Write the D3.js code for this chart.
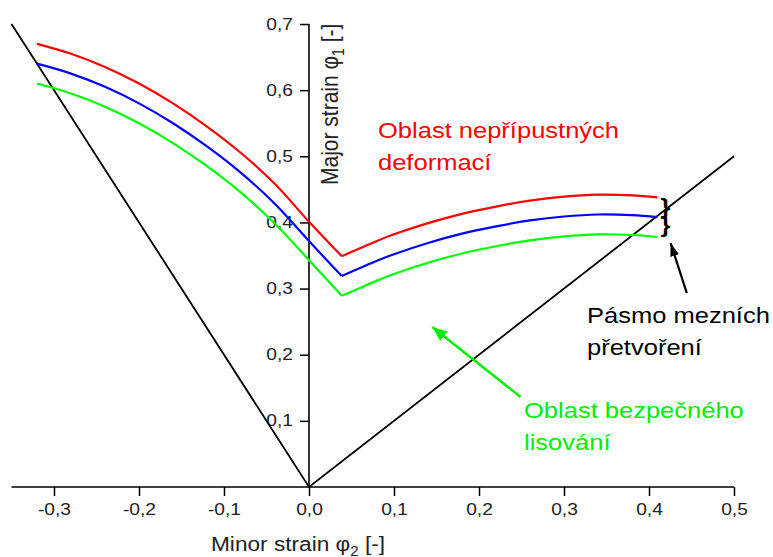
<!DOCTYPE html>
<html>
<head>
<meta charset="utf-8">
<script src="https://cdn.jsdelivr.net/npm/d3@7"></script>
<style>
  body { margin: 0; background: #fff; }
  text { font-family: "Liberation Sans", Arial, sans-serif; }
</style>
</head>
<body>
<svg width="773" height="557"></svg>
<script>
// minor strain (phi2) positions of the limit curves
var strainX = [-0.32, -0.28, -0.24, -0.20, -0.16, -0.12, -0.08, -0.04, 0.00, 0.0385,
               0.06, 0.08, 0.10, 0.14, 0.18, 0.22, 0.26, 0.30, 0.34, 0.38, 0.41];
// major strain (phi1) of the three curves
var redY   = [0.670, 0.655, 0.635, 0.610, 0.580, 0.545, 0.505, 0.458, 0.401, 0.349,
              0.361, 0.372, 0.382, 0.399, 0.413, 0.424, 0.433, 0.439, 0.442, 0.441, 0.438];
var blueY  = [0.640, 0.625, 0.605, 0.580, 0.550, 0.515, 0.475, 0.428, 0.372, 0.319,
              0.331, 0.342, 0.352, 0.369, 0.383, 0.394, 0.403, 0.409, 0.412, 0.411, 0.408];
var greenY = [0.610, 0.595, 0.575, 0.550, 0.520, 0.485, 0.445, 0.398, 0.343, 0.289,
              0.301, 0.312, 0.322, 0.339, 0.353, 0.364, 0.373, 0.379, 0.382, 0.381, 0.378];
var kink = 9; // index of the V point (plane strain)

// straight strain paths (black)
var pathX = [-0.35, 0, 0.5];
var pathY = [0.70, 0, 0.50];

var xMajor = [-0.3, -0.2, -0.1, 0.0, 0.1, 0.2, 0.3, 0.4, 0.5];
var xMinor = [-0.35, -0.25, -0.15, -0.05, 0.05, 0.15, 0.25, 0.35, 0.45];
var yMajor = [0.1, 0.2, 0.3, 0.4, 0.5, 0.6, 0.7];
var yMinor = [0.05, 0.15, 0.25, 0.35, 0.45, 0.55, 0.65];

var sx = 1.16; // the picture is a bit wider than tall, text too
var tx = 1.2;  // same for tick labels

var svg = d3.select("svg");

var x = d3.scaleLinear().domain([-0.35, 0.5]).range([11.5, 734]);
var y = d3.scaleLinear().domain([0, 0.7]).range([487, 24]);

function fmt(v) { return v.toFixed(1).replace(".", ","); }

// x axis
var gx = svg.append("g").attr("transform", "translate(0," + y(0) + ")");
gx.call(d3.axisBottom(x).tickValues(xMinor).tickSize(5).tickFormat(""));
gx.call(d3.axisBottom(x).tickValues(xMajor).tickSize(9).tickFormat(fmt));
gx.selectAll(".domain").remove();
gx.append("line").attr("x1", x(-0.35)).attr("x2", x(0.5)).attr("stroke", "#000").attr("stroke-width", 1.6);
gx.selectAll(".tick line").attr("stroke-width", 1.5);
gx.selectAll("text")
    .style("font-size", "16px").attr("fill", "#222")
    .attr("y", 17)
    .attr("transform", "scale(" + tx + ",1)");

// y axis
var gy = svg.append("g").attr("transform", "translate(" + x(0) + ",0)");
gy.call(d3.axisLeft(y).tickValues(yMinor).tickSize(5).tickFormat(""));
gy.call(d3.axisLeft(y).tickValues(yMajor).tickSize(9).tickFormat(fmt));
gy.selectAll(".domain").remove();
gy.append("line").attr("y1", y(0)).attr("y2", y(0.7)).attr("stroke", "#000").attr("stroke-width", 1.6);
gy.selectAll(".tick line").attr("stroke-width", 1.5);
gy.selectAll("text")
    .style("font-size", "16px").attr("fill", "#222")
    .attr("x", -16 / tx)
    .attr("transform", "scale(" + tx + ",1)");

// black strain paths
var line = d3.line().x(function(d) { return x(d[0]); }).y(function(d) { return y(d[1]); });
svg.append("path")
    .datum(d3.zip(pathX, pathY))
    .attr("d", line)
    .attr("fill", "none").attr("stroke", "#000").attr("stroke-width", 1.8);

// limit curves, two smooth pieces meeting at the V
var curve = d3.line().curve(d3.curveCatmullRom.alpha(0.5))
    .x(function(d) { return x(d[0]); }).y(function(d) { return y(d[1]); });

[[redY, "#ff0000"], [blueY, "#0000ff"], [greenY, "#00ff00"]].forEach(function(s) {
  var pts = d3.zip(strainX, s[0]);
  [pts.slice(0, kink + 1), pts.slice(kink)].forEach(function(part) {
    svg.append("path")
        .datum(part)
        .attr("d", curve)
        .attr("fill", "none").attr("stroke", s[1]).attr("stroke-width", 2.2)
        .attr("stroke-linejoin", "round");
  });
});

// texts
function label(px, py, str, color, size) {
  return svg.append("text")
      .attr("transform", "translate(" + px + "," + py + ") scale(" + sx + ",1)")
      .attr("font-size", size).attr("fill", color).text(str);
}

label(378, 138, "Oblast nepřípustných", "#ff0000", 22);
label(378, 170, "deformací", "#ff0000", 22);
label(587, 323, "Pásmo mezních", "#000", 22);
label(587, 355, "přetvoření", "#000", 22);
label(524, 418, "Oblast bezpečného", "#00ee00", 22);
label(524, 450, "lisování", "#00ee00", 22);

// braces
label(x(0.4135), y(0.413), "}", "#000", 22).attr("font-weight", "bold");
label(x(0.4135), y(0.386), "}", "#000", 22).attr("font-weight", "bold");

// axis titles
var xt = svg.append("text")
    .attr("transform", "translate(211,551) scale(" + sx * 0.93 + ",1)")
    .attr("font-size", 21).attr("fill", "#222");
xt.append("tspan").text("Minor strain φ");
xt.append("tspan").attr("font-size", 14).attr("dy", 5).text("2");
xt.append("tspan").attr("dy", -5).text(" [-]");

var yt = svg.append("text")
    .attr("transform", "translate(338,185) scale(" + sx + ",1) rotate(-90)")
    .attr("font-size", 21).attr("fill", "#222");
yt.append("tspan").text("Major strain φ");
yt.append("tspan").attr("font-size", 14).attr("dy", 5).text("1");
yt.append("tspan").attr("dy", -5).text(" [-]");

// arrows
var defs = svg.append("defs");
function head(id, color, len, wid) {
  defs.append("marker").attr("id", id)
      .attr("markerUnits", "userSpaceOnUse")
      .attr("viewBox", "0 0 " + len + " " + wid)
      .attr("refX", len).attr("refY", wid / 2)
      .attr("markerWidth", len).attr("markerHeight", wid)
      .attr("orient", "auto")
    .append("path")
      .attr("d", "M0,0L" + len + "," + (wid / 2) + "L0," + wid + "Z")
      .attr("fill", color);
}
head("gh", "#00ee00", 15, 12);
head("bh", "#000", 13, 9);

svg.append("line")
    .attr("x1", x(0.249)).attr("y1", y(0.136))
    .attr("x2", x(0.145)).attr("y2", y(0.242))
    .attr("stroke", "#00ee00").attr("stroke-width", 2.5)
    .attr("marker-end", "url(#gh)");

svg.append("line")
    .attr("x1", x(0.4445)).attr("y1", y(0.293))
    .attr("x2", x(0.4255)).attr("y2", y(0.3685))
    .attr("stroke", "#000").attr("stroke-width", 2.2)
    .attr("marker-end", "url(#bh)");
</script>
</body>
</html>
